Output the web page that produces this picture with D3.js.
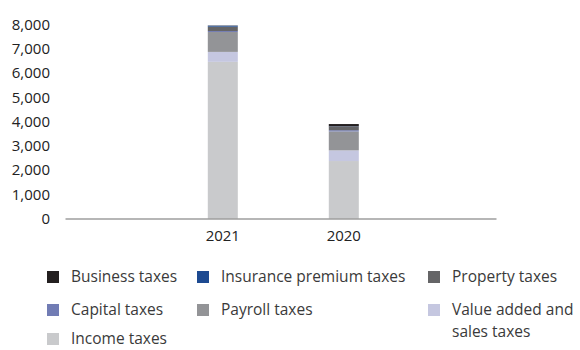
<!DOCTYPE html>
<html>
<head>
<meta charset="utf-8">
<script src="https://cdn.jsdelivr.net/npm/d3@7"></script>
<style>
  html, body { margin: 0; padding: 0; background: #fff; }
  svg { display: block; font-family: "Open Sans", sans-serif; }
</style>
</head>
<body>
<svg id="chart" width="580" height="350"></svg>
<script>
// Tax revenue by type, stacked per year
const years = ["2021", "2020"];
const taxTypes = ["Income taxes", "Value added and sales taxes", "Payroll taxes", "Capital taxes",
                  "Property taxes", "Insurance premium taxes", "Business taxes"];
const incomeTaxes    = [6460, 2370];
const valueAdded     = [410, 440];
const payrollTaxes   = [820, 780];
const capitalTaxes   = [40, 50];
const propertyTaxes  = [180, 150];
const insuranceTaxes = [40, 10];
const businessTaxes  = [10, 95];
const yTicks = [0, 1000, 2000, 3000, 4000, 5000, 6000, 7000, 8000];

const seriesValues = [incomeTaxes, valueAdded, payrollTaxes, capitalTaxes,
                      propertyTaxes, insuranceTaxes, businessTaxes];
const colors = ["#c9cacc", "#c5c7e0", "#939497", "#717cb4", "#656567", "#1d4a91", "#231f20"];

const rows = years.map((y, i) => {
  const r = { year: y };
  taxTypes.forEach((t, k) => { r[t] = seriesValues[k][i]; });
  return r;
});

const svg = d3.select("#chart");
const x = d3.scaleBand().domain(years).range([65, 496])
  .paddingInner(0.752).paddingOuter(1.157).align(0.51);
const y = d3.scaleLinear().domain([0, 8000]).range([218.5, 24.5]);
const color = d3.scaleOrdinal().domain(taxTypes).range(colors);

const stacked = d3.stack().keys(taxTypes)(rows);

svg.append("g").selectAll("g").data(stacked).join("g")
  .attr("fill", d => color(d.key))
  .selectAll("rect").data(d => d).join("rect")
  .attr("x", d => x(d.data.year))
  .attr("width", x.bandwidth())
  .attr("y", d => y(d[1]))
  .attr("height", d => y(d[0]) - y(d[1]));

// y axis labels only
const yAxis = svg.append("g").attr("transform", "translate(50,0)")
  .call(d3.axisLeft(y).tickValues(yTicks).tickFormat(d3.format(",")).tickSize(0).tickPadding(0));
yAxis.select(".domain").remove();
yAxis.selectAll("text").attr("font-size", 15).attr("fill", "#222")
  .attr("font-family", "'Open Sans', sans-serif");

// baseline and year labels
const xAxis = svg.append("g").attr("transform", `translate(0,${y(0)})`)
  .call(d3.axisBottom(x).tickSize(0).tickPadding(12));
xAxis.select(".domain").attr("stroke", "#6f6f6f").attr("stroke-width", 1.2);
xAxis.selectAll("text").attr("font-size", 15).attr("fill", "#222")
  .attr("font-family", "'Open Sans', sans-serif");

// legend
const legendItems = [
  { key: "Business taxes", col: 0, row: 0 },
  { key: "Insurance premium taxes", col: 1, row: 0 },
  { key: "Property taxes", col: 2, row: 0 },
  { key: "Capital taxes", col: 0, row: 1 },
  { key: "Payroll taxes", col: 1, row: 1 },
  { key: "Value added and sales taxes", col: 2, row: 1, lines: ["Value added and", "sales taxes"] },
  { key: "Income taxes", col: 0, row: 2 }
];
const colX = [47, 197, 428];
const rowY = [277, 310, 339];
const legend = svg.append("g");
const li = legend.selectAll("g").data(legendItems).join("g")
  .attr("transform", d => `translate(${colX[d.col]},${rowY[d.row]})`);
li.append("rect").attr("x", 0).attr("y", -6).attr("width", 12).attr("height", 12)
  .attr("fill", d => color(d.key));
li.selectAll("text").data(d => d.lines || [d.key]).join("text")
  .attr("x", 24).attr("y", (d, i) => i * 21.5).attr("dy", "0.35em")
  .attr("font-size", 15.5).attr("fill", "#3a3a3a")
  .text(d => d);
</script>
</body>
</html>
